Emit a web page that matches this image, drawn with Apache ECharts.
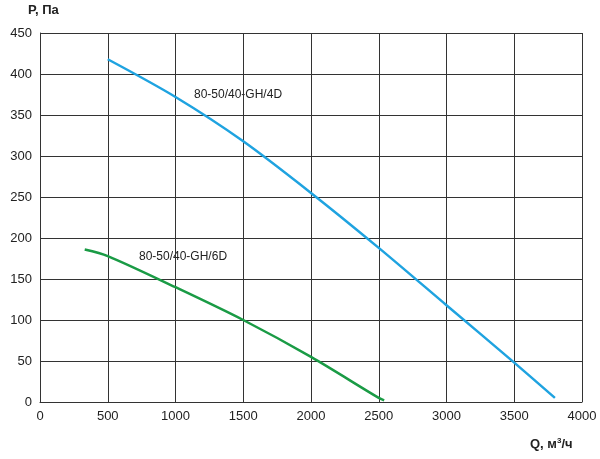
<!DOCTYPE html><html><head><meta charset="utf-8"><script src="https://cdn.jsdelivr.net/npm/echarts@6/dist/echarts.min.js"></script></head><body style="margin:0"><div id="c" style="width:600px;height:459px"></div><script>
const blue=[[500,418],[1000,372],[1500,318],[2000,255],[2500,188],[3000,118],[3500,48],[3800,5]];
const green=[[330,186],[500,178],[1000,140],[1500,100],[2000,55],[2500,5],[2540,2]];
const c=echarts.init(document.getElementById('c'));
const ax={axisLine:{lineStyle:{color:'#333'}},axisTick:{show:false},splitLine:{lineStyle:{color:'#333',width:1}},axisLabel:{color:'#222',fontSize:13,fontFamily:'Arial',formatter:v=>String(v)}};
c.setOption({animation:false,grid:{left:40,right:18,top:33,bottom:57},
xAxis:Object.assign({type:'value',min:0,max:4000,interval:500},ax),
yAxis:Object.assign({type:'value',min:0,max:450,interval:50},ax),
series:[{type:'line',smooth:0.3,symbol:'none',data:blue,lineStyle:{color:'#1fa3e0',width:2.5}},
{type:'line',smooth:0.3,symbol:'none',data:green,lineStyle:{color:'#1a9b45',width:2.5}}],
graphic:[{type:'text',left:194,top:89,style:{text:'80-50/40-GH/4D',fontSize:12,fill:'#222',fontFamily:'Arial'}},
{type:'text',left:139,top:251,style:{text:'80-50/40-GH/6D',fontSize:12,fill:'#222',fontFamily:'Arial'}},
{type:'text',left:28,top:4,style:{text:'P, Па',fontSize:13,fontWeight:'bold',fill:'#222',fontFamily:'Arial'}},
{type:'text',left:530,top:437,style:{rich:{a:{fontSize:13,fontWeight:'bold',fill:'#222',fontFamily:'Arial'},s:{fontSize:8,fontWeight:'bold',fill:'#222',verticalAlign:'top',padding:[0,0,6,0]}},text:'{a|Q, м}{s|3}{a|/ч}'}}]});
</script></body></html>
